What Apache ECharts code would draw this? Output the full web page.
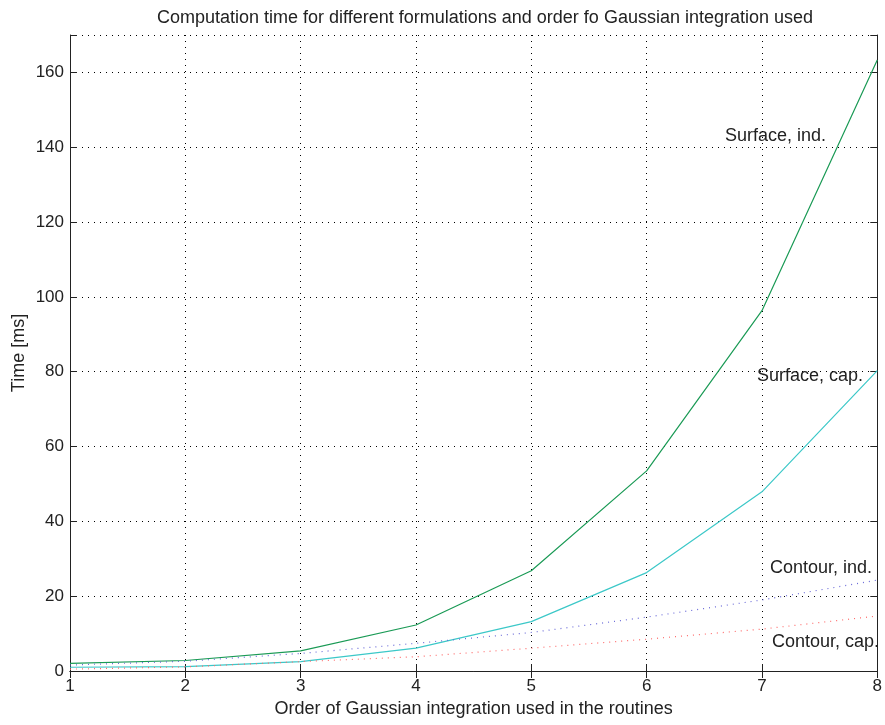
<!DOCTYPE html>
<html>
<head>
<meta charset="utf-8">
<script src="https://cdn.jsdelivr.net/npm/echarts@6/dist/echarts.min.js"></script>
<style>
html,body{margin:0;padding:0;background:#fff;}
#chart{width:885px;height:725px;}
</style>
</head>
<body>
<div id="chart"></div>
<script>
// Integration order on the x axis
const orders = [1, 2, 3, 4, 5, 6, 7, 8];
// Computation time [ms] for each formulation
const surfaceInd = [2.05, 2.8, 5.4, 12.3, 26.8, 53.5, 96.3, 163.3];
const surfaceCap = [1.0, 1.15, 2.5, 6.1, 13.2, 26.3, 47.9, 80.3];
const contourInd = [1.6, 2.6, 4.7, 7.4, 10.3, 14.4, 19.0, 24.3];
const contourCap = [0.5, 1.1, 2.5, 3.8, 6.1, 8.5, 11.2, 14.7];
const yTicks = [0, 20, 40, 60, 80, 100, 120, 140, 160];

const FONT = '"Liberation Sans", Arial, sans-serif';
const pairs = arr => orders.map((o, i) => [o, arr[i]]);

const chart = echarts.init(document.getElementById('chart'), null, {renderer: 'canvas'});

const gridLine = {show: true, lineStyle: {color: '#000', type: [1, 5], width: 1}};
const axisLine = {show: true, lineStyle: {color: '#222', width: 1}};
const tick = {show: true, inside: true, length: 7, lineStyle: {color: '#222'}};

chart.setOption({
  backgroundColor: '#fff',
  animation: false,
  title: {
    text: 'Computation time for different formulations and order fo Gaussian integration used',
    left: 480, top: 4, textAlign: 'center',
    textStyle: {fontFamily: FONT, fontSize: 18, fontWeight: 'normal', color: '#222'}
  },
  grid: {left: 70, right: 7, top: 35, bottom: 54},
  xAxis: [{
    type: 'value', min: 1, max: 8, interval: 1,
    name: 'Order of Gaussian integration used in the routines',
    nameLocation: 'middle', nameGap: 29, nameMoveOverlap: false,
    nameTextStyle: {fontFamily: FONT, fontSize: 18, color: '#222'},
    axisLine: axisLine,
    axisTick: tick,
    axisLabel: {fontFamily: FONT, fontSize: 17, color: '#222', margin: 7},
    splitLine: gridLine
  }, {
    type: 'value', min: 1, max: 8, interval: 1, position: 'top',
    axisLine: axisLine, axisTick: tick,
    axisLabel: {show: false}, splitLine: {show: false}
  }],
  yAxis: [{
    type: 'value', min: 0, max: 170, interval: 20,
    name: 'Time [ms]', nameLocation: 'middle', nameGap: 42, nameRotate: 90,
    nameMoveOverlap: false,
    nameTextStyle: {fontFamily: FONT, fontSize: 18, color: '#222'},
    axisLine: axisLine,
    axisTick: tick,
    axisLabel: {fontFamily: FONT, fontSize: 17, color: '#222', margin: 6,
      formatter: v => (yTicks.includes(v) ? String(v) : '')},
    splitLine: gridLine
  }, {
    type: 'value', min: 0, max: 170, interval: 20, position: 'right',
    axisLine: axisLine, axisTick: tick,
    axisLabel: {show: false}, splitLine: {show: false}
  }],
  series: [
    {type: 'line', name: 'Surface, ind.', data: pairs(surfaceInd), symbol: 'none',
      lineStyle: {color: '#1a9a55', width: 1.2}},
    {type: 'line', name: 'Surface, cap.', data: pairs(surfaceCap), symbol: 'none',
      lineStyle: {color: '#3cc8c8', width: 1.2}},
    {type: 'line', name: 'Contour, ind.', data: pairs(contourInd), symbol: 'none',
      lineStyle: {color: '#6a6ad8', width: 1.2, type: [1, 5]}},
    {type: 'line', name: 'Contour, cap.', data: pairs(contourCap), symbol: 'none',
      lineStyle: {color: '#ff6a6a', width: 1.2, type: [1, 5]}}
  ],
  graphic: [
    {type: 'text', left: 725, top: 127, style: {text: 'Surface, ind.', font: '18px ' + FONT, fill: '#222'}},
    {type: 'text', left: 757, top: 367, style: {text: 'Surface, cap.', font: '18px ' + FONT, fill: '#222'}},
    {type: 'text', left: 770, top: 559, style: {text: 'Contour, ind.', font: '18px ' + FONT, fill: '#222'}},
    {type: 'text', left: 772, top: 633, style: {text: 'Contour, cap.', font: '18px ' + FONT, fill: '#222'}}
  ]
});
</script>
</body>
</html>
